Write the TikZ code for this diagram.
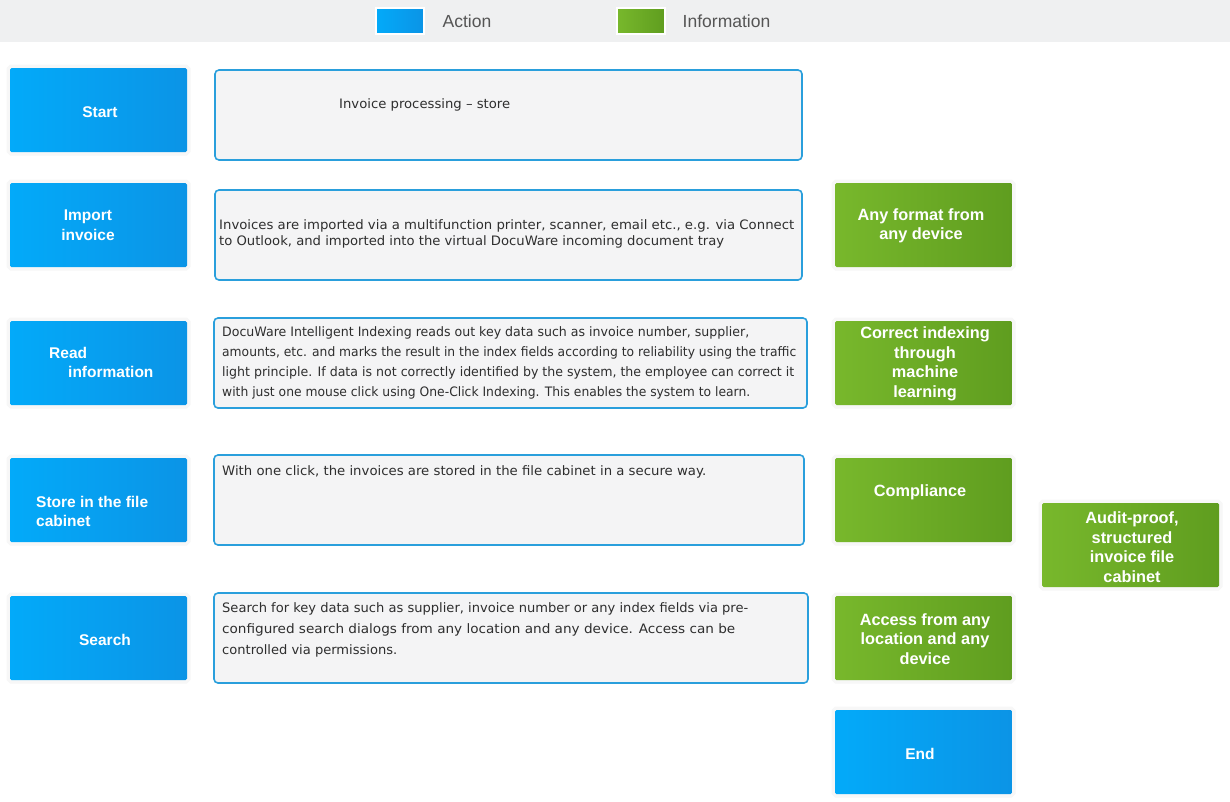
\documentclass[tikz,border=0pt]{standalone}
\usepackage{fontspec}
\setmainfont{Liberation Sans}
\newfontfamily\bodyfont{DejaVu Sans}
\definecolor{bandgray}{HTML}{EFF0F1}
\definecolor{blueL}{HTML}{03AAF9}
\definecolor{blueR}{HTML}{0B94E6}
\definecolor{greenL}{HTML}{78B82C}
\definecolor{greenR}{HTML}{5F9D1F}
\definecolor{txtfill}{HTML}{F4F4F5}
\definecolor{txtborder}{HTML}{2A9FDC}
\definecolor{legtext}{HTML}{555555}
\definecolor{bodytext}{HTML}{2E2E2E}
\definecolor{halo}{HTML}{F7F7F7}
\newcommand{\fitw}[2]{\resizebox{#1pt}{\height}{#2}}
\tikzset{
  actbox/.style={rectangle, rounded corners=1.5pt, minimum width=177pt, minimum height=84pt, left color=blueL, right color=blueR, draw=none, inner sep=0pt, preaction={draw=halo, line width=7pt}},
  infobox/.style={rectangle, rounded corners=1.5pt, minimum width=177pt, minimum height=84pt, left color=greenL, right color=greenR, draw=none, inner sep=0pt, preaction={draw=halo, line width=7pt}},
  txtbox/.style={rectangle, rounded corners=4pt, fill=txtfill, draw=txtborder, line width=1.6pt, inner sep=0pt},
  boxlabel/.style={text=white, font=\fontsize{15.5}{19.5}\selectfont\bfseries, inner sep=0pt},
  infolabel/.style={text=white, font=\fontsize{16.3}{19.5}\selectfont\bfseries, inner sep=0pt, align=center},
  bodylabel/.style={text=bodytext, font=\bodyfont\fontsize{13}{20.5}\selectfont, inner sep=0pt, anchor=base west},
  legsq/.style={rectangle, minimum width=48pt, minimum height=26pt, inner sep=0pt, draw=white, line width=2pt},
  legtxt/.style={text=legtext, font=\fontsize{17.5}{18}\selectfont, inner sep=0pt}
}
\begin{document}
\begin{tikzpicture}[x=1pt,y=-1pt]
\useasboundingbox (0,0) rectangle (1230,801);
\fill[white] (0,0) rectangle (1230,801);
\fill[bandgray] (0,0) rectangle (1230,42);
% legend
\node[legsq, left color=blueL, right color=blueR] (legA) at (400,21) {};
\node[legtxt] (legAt) at (467,21) {Action};
\node[legsq, left color=greenL, right color=greenR] (legI) at (641,21) {};
\node[legtxt] (legIt) at (726.5,21) {Information};
% action boxes
\node[actbox] (start) at (98.5,110) {};
\node[boxlabel] (startL) at (100,112) {Start};
\node[actbox] (import) at (98.5,225) {};
\node[boxlabel, align=center] (importL) at (88,225) {Import\\invoice};
\node[actbox] (read) at (98.5,363) {};
\node[boxlabel, anchor=west] (readL1) at (49,353) {Read};
\node[boxlabel, anchor=west] (readL2) at (68,372) {information};
\node[actbox] (store) at (98.5,500) {};
\node[boxlabel, anchor=west] (storeL1) at (36,502) {Store in the file};
\node[boxlabel, anchor=west] (storeL2) at (36,521) {cabinet};
\node[actbox] (search) at (98.5,638) {};
\node[boxlabel] (searchL) at (105,640) {Search};
\node[actbox] (endb) at (923.5,752) {};
\node[boxlabel] (endL) at (920,754) {End};
% text boxes
\node[txtbox, minimum width=587pt, minimum height=90pt] (t1) at (508.5,115) {};
\node[bodylabel] (t1a) at (339,108) {\fitw{171}{Invoice processing – store}};
\node[txtbox, minimum width=587pt, minimum height=90pt] (t2) at (508.5,235) {};
\node[bodylabel] (t2a) at (219,229) {\fitw{575}{Invoices are imported via a multifunction printer, scanner, email etc., e.g. via Connect}};
\node[bodylabel] (t2b) at (219,245) {\fitw{505}{to Outlook, and imported into the virtual DocuWare incoming document tray}};
\node[txtbox, minimum width=593pt, minimum height=90pt] (t3) at (510.5,363) {};
\node[bodylabel] (t3a) at (222,336) {\fitw{527}{DocuWare Intelligent Indexing reads out key data such as invoice number, supplier,}};
\node[bodylabel] (t3b) at (222,356) {\fitw{574}{amounts, etc. and marks the result in the index fields according to reliability using the traffic}};
\node[bodylabel] (t3c) at (222,376) {\fitw{572}{light principle. If data is not correctly identified by the system, the employee can correct it}};
\node[bodylabel] (t3d) at (222,396) {\fitw{528}{with just one mouse click using One-Click Indexing. This enables the system to learn.}};
\node[txtbox, minimum width=590pt, minimum height=90pt] (t4) at (509,500) {};
\node[bodylabel] (t4a) at (222,475) {\fitw{484}{With one click, the invoices are stored in the file cabinet in a secure way.}};
\node[txtbox, minimum width=594pt, minimum height=90pt] (t5) at (511,638) {};
\node[bodylabel] (t5a) at (222,612) {\fitw{526}{Search for key data such as supplier, invoice number or any index fields via pre-}};
\node[bodylabel] (t5b) at (222,633) {\fitw{513}{configured search dialogs from any location and any device. Access can be}};
\node[bodylabel] (t5c) at (222,654) {\fitw{175}{controlled via permissions.}};
% info boxes
\node[infobox] (anyfmt) at (923.5,225) {};
\node[infolabel] (anyfmtL) at (921,226) {Any format from\\any device};
\node[infobox] (correct) at (923.5,363) {};
\node[infolabel] (correctL) at (925,364) {Correct indexing\\through\\machine\\learning};
\node[infobox] (compl) at (923.5,500) {};
\node[infolabel] (complL) at (920,492) {Compliance};
\node[infobox] (access) at (923.5,638) {};
\node[infolabel] (accessL) at (925,639) {Access from any\\location and any\\device};
\node[infobox] (audit) at (1130.5,545) {};
\node[infolabel] (auditL) at (1132,547) {Audit-proof,\\structured\\invoice file\\cabinet};
\end{tikzpicture}
\end{document}
